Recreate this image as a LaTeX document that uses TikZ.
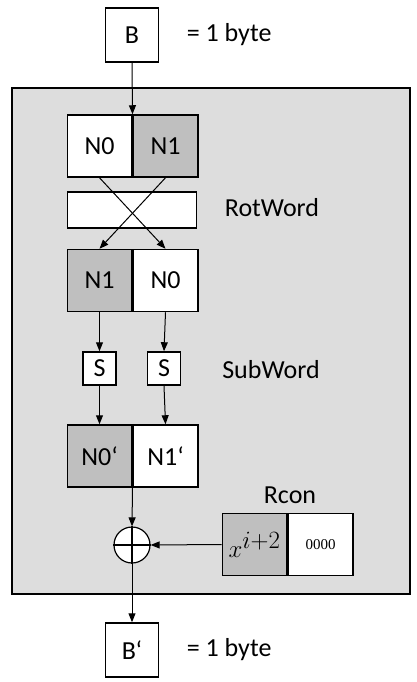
\documentclass[tikz,border=0pt]{standalone}
\usepackage{fontspec}
\setmainfont{Carlito}
\newfontfamily\numfont{Liberation Serif}
\usetikzlibrary{positioning,arrows.meta}
\definecolor{panelgray}{RGB}{221,221,221}
\definecolor{cellgray}{RGB}{191,191,191}

\begin{document}
\begin{tikzpicture}
  [x=1pt, y=-1pt,
   every node/.style={font=\fontsize{26}{30}\selectfont},
   cell/.style={draw, line width=1.5pt, fill=white, minimum width=64.5pt, minimum height=62pt, inner sep=0pt},
   graycell/.style={cell, fill=cellgray},
   sbox/.style={draw, line width=1.5pt, fill=white, minimum size=33pt, inner sep=0pt},
   bytebox/.style={draw, line width=1.5pt, fill=white, minimum width=53pt, minimum height=54pt, inner sep=0pt},
   arr/.style={-{Triangle[length=9pt,width=7pt]}, line width=1pt}]
  \useasboundingbox (0,0) rectangle (416,682);
  \draw[line width=1.5pt, fill=panelgray] (12,88) rectangle (410,594);

  \node[bytebox] (B) at (132,35) {B};
  \node (Beq) [right=24pt of B] {= 1 byte};

  \node[cell] (n0) at (99.5,146) {N0};
  \node[graycell] (n1) [right=0pt of n0] {N1};

  \node[draw, line width=1.5pt, fill=white, minimum width=129pt, minimum height=36pt] (rot) at (132,210) {};
  \node (rotlbl) at (272,208) {RotWord};

  \node[graycell] (m1) at (99.5,280.5) {N1};
  \node[cell] (m0) [right=0pt of m1] {N0};

  \node[sbox] (s0) at (99.5,368.5) {S};
  \node[sbox] (s1) at (164,368.5) {S};
  \node (sublbl) at (271,370) {SubWord};

  \node[graycell] (p0) at (99.5,456) {N0‘};
  \node[cell] (p1) [right=0pt of p0] {N1‘};

  \node[draw, circle, line width=1.2pt, fill=white, minimum size=36pt, inner sep=0pt] (xor) at (132,545) {};
  \draw[line width=1.2pt] (xor.north) -- (xor.south) (xor.west) -- (xor.east);

  \node[graycell, font=\fontsize{34}{38}\selectfont] (rc0) at (254.5,544.5) {$x^{i+2}$};
  \node[cell] (rc1) [right=0pt of rc0] {\numfont\fontsize{15}{18}\selectfont 0000};
  \node (rcon) at (290,495) {Rcon};

  \node[bytebox] (Bp) at (132,650) {B‘};
  \node (Bpeq) [right=24pt of Bp] {= 1 byte};

  \draw[arr] (B.south) -- (n0.north east);
  \draw[arr] (n0.south) -- (m0.north);
  \draw[arr] (n1.south) -- (m1.north);
  \draw[arr] (m1.south) -- (s0.north);
  \draw[arr] (m0.south) -- (s1.north);
  \draw[arr] (s0.south) -- (p0.north);
  \draw[arr] (s1.south) -- (p1.north);
  \draw[arr] (p0.south east) -- (xor.north);
  \draw[arr] (rc0.west) -- (xor.east);
  \draw[arr] (xor.south) -- (Bp.north);
\end{tikzpicture}
\end{document}
